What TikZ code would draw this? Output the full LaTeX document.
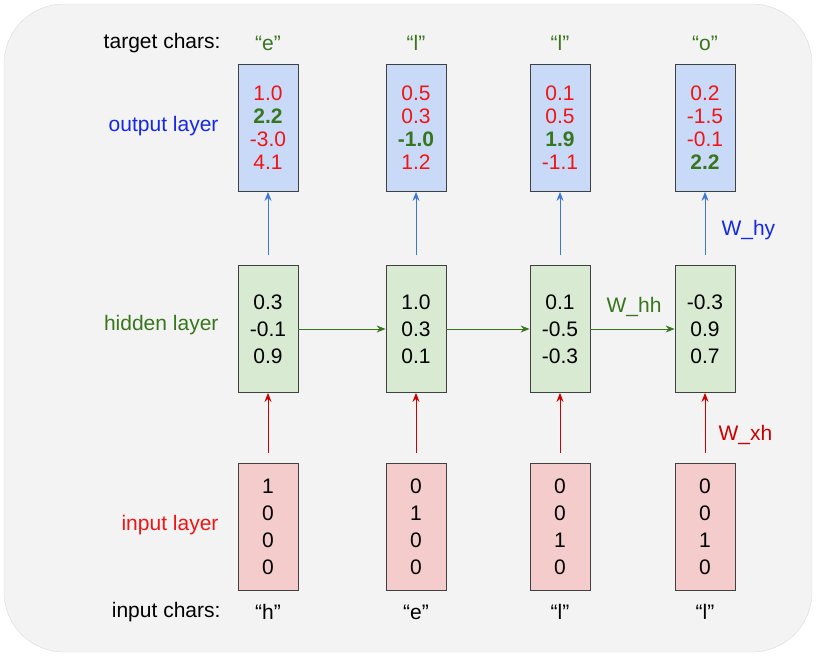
\documentclass[tikz,border=0pt]{standalone}
\usepackage{fontspec}
\setmainfont{Liberation Sans}
\usetikzlibrary{arrows.meta}
\definecolor{obg}{RGB}{201,218,248}
\definecolor{hbg}{RGB}{217,234,211}
\definecolor{ibg}{RGB}{244,204,204}
\definecolor{tred}{RGB}{240,20,20}
\definecolor{tgreen}{RGB}{56,118,29}
\definecolor{tblue}{RGB}{20,40,230}
\definecolor{ablue}{RGB}{60,120,216}
\definecolor{ared}{RGB}{204,0,0}
\definecolor{bgg}{RGB}{243,243,243}
\begin{document}
\begin{tikzpicture}[x=1pt,y=-1pt,font=\fontsize{21}{23}\selectfont,
 box/.style={draw=black!75,line width=0.8pt,minimum width=60pt,minimum height=127pt,align=center,inner sep=0pt},
 ob/.style={box,fill=obg,text=tred,font=\fontsize{21}{23}\selectfont},
 hb/.style={box,fill=hbg,font=\fontsize{21}{27}\selectfont},
 ib/.style={box,fill=ibg,font=\fontsize{21}{27}\selectfont},
 arr/.style={-{Stealth[length=9pt,width=7pt]},line width=1pt}]
\useasboundingbox (0,0) rectangle (816,656);
\fill[bgg,draw=black!15,rounded corners=60pt] (4,4) rectangle (812,652);
\node[anchor=east] (lt) at (224,43) {target chars:};
\node[anchor=east,text=tblue] (lo) at (222,126) {output layer};
\node[anchor=east,text=tgreen] (lh) at (222,325) {hidden layer};
\node[anchor=east,text=tred] (li) at (222,525) {input layer};
\node[anchor=east] (lc) at (224,612) {input chars:};
\foreach \x/\i/\t/\c/\oa/\ob/\oc/\od/\ha/\hb/\hc/\ia/\ib/\ic/\id in {
 268/1/e/h/1.0/\textbf{\color{tgreen}2.2}/-3.0/4.1/0.3/-0.1/0.9/1/0/0/0,
 416/2/l/e/0.5/0.3/\textbf{\color{tgreen}-1.0}/1.2/1.0/0.3/0.1/0/1/0/0,
 560/3/l/l/0.1/0.5/\textbf{\color{tgreen}1.9}/-1.1/0.1/-0.5/-0.3/0/0/1/0,
 705/4/o/l/0.2/-1.5/-0.1/\textbf{\color{tgreen}2.2}/-0.3/0.9/0.7/0/0/1/0}{
 \node[text=tgreen] (t\i) at (\x,43) {``\t''};
 \node[ob] (o\i) at (\x,128) {\oa\\\ob\\\oc\\\od};
 \node[hb] (h\i) at (\x,329) {\ha\\\hb\\\hc};
 \node[ib] (i\i) at (\x,527) {\ia\\\ib\\\ic\\\id};
 \node (c\i) at (\x,612) {``\c''};
 \draw[arr,ared] ([yshift=10pt]i\i.north) -- (h\i.south);
 \draw[arr,ablue] ([yshift=10pt]h\i.north) -- (o\i.south);
}
\foreach \a/\b in {1/2,2/3,3/4} \draw[arr,tgreen] (h\a) -- (h\b);
\node[text=tblue,anchor=west] (wy) at (718,230) {W\_hy};
\node[text=tgreen] (wh) at (634,307) {W\_hh};
\node[text=ared,anchor=west] (wx) at (715,435) {W\_xh};
\end{tikzpicture}
\end{document}
